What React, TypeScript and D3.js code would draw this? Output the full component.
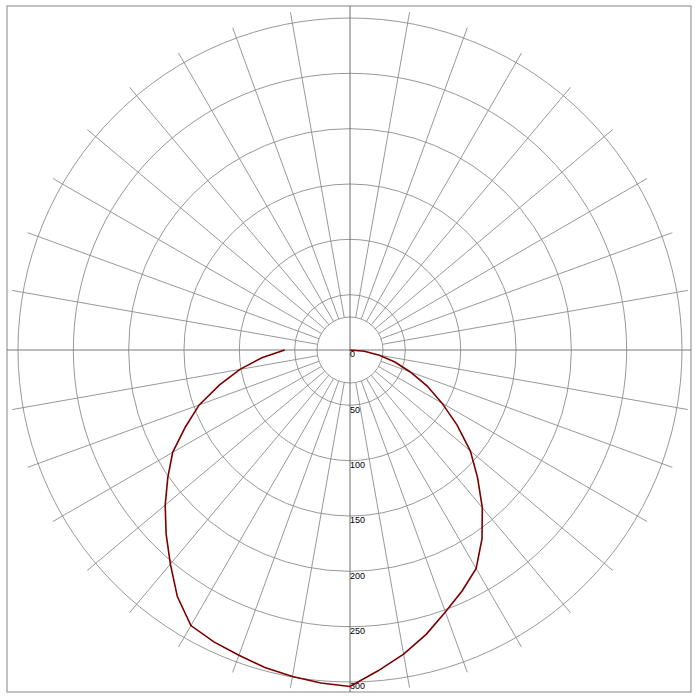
import React from "react";
import * as d3 from "d3";

// polar angles (degrees from nadir), 5 degree steps
const angles = [0, 5, 10, 15, 20, 25, 30, 35, 40, 45, 50, 55, 60, 65, 70, 75, 80, 85, 90];
// right half (C0) and left half (C180) intensities
const rightValues = [304, 291, 279, 266, 252, 240, 228, 208, 186, 163, 142, 118, 96, 77, 58, 42, 27, 13, 0];
const leftValues = [304, 302, 299.5, 297, 293.5, 291, 287.5, 272, 252.5, 235, 218, 201, 185, 164, 145, 122, 101, 80, 59];
const ringTicks = [0, 50, 100, 150, 200, 250, 300];
const spokeAngles = d3.range(0, 360, 10);

const App: React.FC = () => {
    const width = 700;
    const height = 700;
    const cx = 350;
    const cy = 350;
    const hole = 33;
    const spokeEnd = 343;

    const rScale = d3.scaleLinear().domain([0, 300]).range([0, 332]);

    // left side walked from 90 down to 0, then right side 0 up to 90
    const points: [number, number][] = [
        ...angles
            .map((a, i) => [Math.PI + (a * Math.PI) / 180, rScale(leftValues[i])] as [number, number])
            .reverse(),
        ...angles
            .slice(1)
            .map((a, i) => [Math.PI - (a * Math.PI) / 180, rScale(rightValues[i + 1])] as [number, number]),
    ];

    const curve = d3.lineRadial<[number, number]>()
        .angle((d) => d[0])
        .radius((d) => d[1])
        .curve(d3.curveLinear);

    const grid = "#8c8c8c";

    return (
        <svg
            width={width}
            height={height}
            style={{ position: "absolute", left: 0, top: 0, background: "#fff" }}
        >
            <rect x={7} y={6} width={684} height={686} fill="none" stroke="#9a9a9a" strokeWidth={1.2} />
            <g transform={`translate(${cx},${cy})`}>
                {/* spokes every 10 degrees */}
                {spokeAngles
                    .filter((a) => a % 90 !== 0)
                    .map((a) => {
                        const t = (a * Math.PI) / 180;
                        return (
                            <line
                                key={a}
                                x1={hole * Math.sin(t)}
                                y1={-hole * Math.cos(t)}
                                x2={spokeEnd * Math.sin(t)}
                                y2={-spokeEnd * Math.cos(t)}
                                stroke={grid}
                                strokeWidth={0.9}
                            />
                        );
                    })}
                {/* rings */}
                <circle r={hole} fill="none" stroke={grid} strokeWidth={0.9} />
                {ringTicks.slice(1).map((t) => (
                    <circle key={t} r={rScale(t)} fill="none" stroke={grid} strokeWidth={0.9} />
                ))}
                {/* main axes */}
                <line x1={7 - cx} y1={0} x2={691 - cx} y2={0} stroke="#7a7a7a" strokeWidth={1} />
                <line x1={0} y1={6 - cy} x2={0} y2={692 - cy} stroke="#6a6a6a" strokeWidth={1} />
                {/* ring labels */}
                {ringTicks.map((t) => (
                    <text
                        key={t}
                        x={0}
                        y={rScale(t) + 1}
                        dominantBaseline="hanging"
                        fontFamily="Liberation Sans, Arial, sans-serif"
                        fontSize={9}
                        fill="#000"
                    >
                        {t}
                    </text>
                ))}
                <path d={curve(points) || ""} fill="none" stroke="#7a0000" strokeWidth={1.6} />
            </g>
        </svg>
    );
};

export default App;
